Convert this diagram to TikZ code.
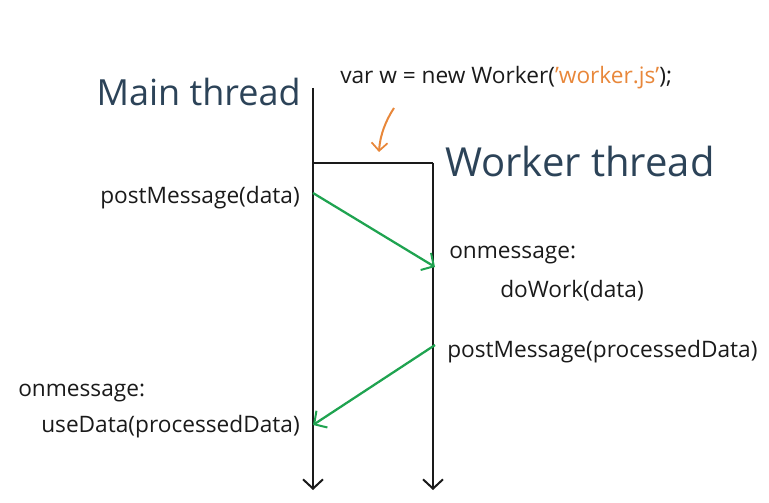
\documentclass[tikz,border=0pt]{standalone}
\usepackage{fontspec}
\setmainfont{Open Sans}
\usepackage{xcolor}
\usepackage{tikz}
\usetikzlibrary{arrows.meta}
\definecolor{navy}{HTML}{2C4358}
\definecolor{msggreen}{HTML}{1FA350}
\definecolor{hintorange}{HTML}{E8873A}
\definecolor{ink}{HTML}{1A1A1A}

\tikzset{
  lifeline/.style={draw=ink, line width=1.7pt, -{Straight Barb[length=7pt,width=15pt,line width=1.5pt]}},
  msg/.style={draw=msggreen, line width=1.7pt, -{Straight Barb[length=7pt,width=15pt,line width=1.5pt]}},
  title/.style={text=navy, font=\fontsize{27}{30}\selectfont, inner sep=0pt},
  code/.style={text=ink, font=\fontsize{17}{20}\selectfont, inner sep=0pt}
}

\begin{document}
\begin{tikzpicture}[x=0.75pt, y=-0.75pt]
\useasboundingbox (0,0) rectangle (769,503);

% lifelines
\coordinate (mainTop) at (313,88);
\coordinate (mainBot) at (313,490);
\coordinate (workerTop) at (433,163);
\coordinate (workerBot) at (433,490);
\coordinate (spawn) at (313,163);

\draw[lifeline] (mainTop) -- (mainBot);
\draw[draw=ink, line width=1.7pt] (spawn) -- (workerTop);
\draw[lifeline] (workerTop) -- (workerBot);

% titles
\node[title, anchor=base east] (mainTitle) at (301,106) {Main thread};
\node[title, anchor=base west, font=\fontsize{30}{33}\selectfont] (workerTitle) at (445,177) {Worker thread};

% worker creation
\node[code, anchor=base west] (newWorker) at (340,84)
  {var w = new Worker(\textcolor{hintorange}{'worker.js'});};
\coordinate (hintStart) at (394,108);
\coordinate (hintEnd) at (379,152);
\draw[draw=hintorange, line width=1.5pt, -{Straight Barb[length=6pt,width=12pt,line width=1.3pt]}]
  (hintStart) .. controls (386,120) and (380,135) .. (hintEnd);

% messages main -> worker
\node[code, anchor=base east] (sendData) at (300,204) {postMessage(data)};
\coordinate (sendFrom) at (313,193);
\coordinate (sendTo) at (435,267);
\draw[msg] (sendFrom) -- (sendTo);
\node[code, anchor=base west] (workerOn) at (449,258) {onmessage:};
\node[code, anchor=base west] (doWork) at (500,297) {doWork(data)};

% messages worker -> main
\node[code, anchor=base west] (sendBack) at (447,357) {postMessage(processedData)};
\coordinate (backFrom) at (435,345);
\coordinate (backTo) at (313,425);
\draw[msg] (backFrom) -- (backTo);
\node[code, anchor=base west] (mainOn) at (18,396) {onmessage:};
\node[code, anchor=base east] (useData) at (300,432) {useData(processedData)};
\end{tikzpicture}
\end{document}
